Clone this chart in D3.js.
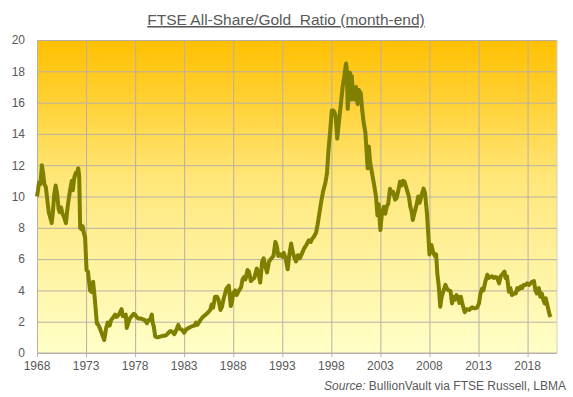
<!DOCTYPE html>
<html>
  <head>
    <meta charset="utf-8">
    <title>FTSE All-Share/Gold Ratio</title>
    <script src="https://d3js.org/d3.v7.min.js"></script>
    <style>
      body { margin: 0; background: #ffffff; }
      text { font-family: "Liberation Sans", Arial, sans-serif; fill: #595959; }
    </style>
  </head>
  <body>
    <svg width="573" height="397" id="mainsvg"></svg>
    <script>
        // month-end ratio (decimal years)
        const dates = [
            1968.00, 1968.10, 1968.20, 1968.35, 1968.50, 1968.60, 1968.75, 1968.90, 1969.05, 1969.20,
            1969.33, 1969.50, 1969.62, 1969.75, 1969.90, 1970.05, 1970.20, 1970.30, 1970.45, 1970.60,
            1970.75, 1970.95, 1971.10, 1971.25, 1971.40, 1971.55, 1971.65, 1971.80, 1971.95, 1972.05,
            1972.20, 1972.30, 1972.40, 1972.55, 1972.65, 1972.80, 1972.90, 1973.05, 1973.20, 1973.40,
            1973.55, 1973.72, 1973.90, 1974.10, 1974.25, 1974.40, 1974.60, 1974.85, 1975.05, 1975.20,
            1975.40, 1975.55, 1975.80, 1975.96, 1976.10, 1976.35, 1976.62, 1976.75, 1976.90, 1977.05,
            1977.15, 1977.30, 1977.45, 1977.65, 1977.85, 1978.00, 1978.15, 1978.35, 1978.60, 1978.80,
            1979.00, 1979.20, 1979.35, 1979.50, 1979.70, 1979.80, 1979.90, 1980.05, 1980.30, 1980.55,
            1980.80, 1981.00, 1981.20, 1981.40, 1981.60, 1981.80, 1982.00, 1982.15, 1982.28, 1982.40,
            1982.55, 1982.75, 1983.00, 1983.20, 1983.45, 1983.75, 1984.05, 1984.20, 1984.35, 1984.65,
            1984.90, 1985.20, 1985.45, 1985.65, 1985.80, 1985.95, 1986.15, 1986.35, 1986.50, 1986.70,
            1986.85, 1987.00, 1987.15, 1987.30, 1987.55, 1987.75, 1987.85, 1988.00, 1988.20, 1988.35,
            1988.60, 1988.80, 1988.95, 1989.10, 1989.25, 1989.45, 1989.60, 1989.80, 1989.95, 1990.15,
            1990.40, 1990.55, 1990.75, 1990.95, 1991.10, 1991.25, 1991.45, 1991.65, 1991.90, 1992.10,
            1992.30, 1992.45, 1992.60, 1992.80, 1993.00, 1993.15, 1993.35, 1993.55, 1993.70, 1993.90,
            1994.05, 1994.20, 1994.40, 1994.60, 1994.80, 1995.00, 1995.20, 1995.45, 1995.70, 1995.90,
            1996.05, 1996.20, 1996.45, 1996.60, 1996.75, 1996.95, 1997.15, 1997.40, 1997.56, 1997.70,
            1997.90, 1998.05, 1998.18, 1998.32, 1998.45, 1998.60, 1998.78, 1998.98, 1999.15, 1999.30,
            1999.50, 1999.58, 1999.67, 1999.78, 1999.90, 2000.00, 2000.08, 2000.20, 2000.35, 2000.52,
            2000.68, 2000.80, 2001.00, 2001.13, 2001.30, 2001.47, 2001.60, 2001.70, 2001.82, 2001.95,
            2002.20, 2002.40, 2002.55, 2002.70, 2002.82, 2003.00, 2003.15, 2003.35, 2003.50, 2003.65,
            2003.80, 2003.98, 2004.15, 2004.30, 2004.50, 2004.65, 2004.80, 2005.00, 2005.15, 2005.30,
            2005.45, 2005.60, 2005.90, 2006.05, 2006.20, 2006.30, 2006.45, 2006.70, 2006.85, 2007.00,
            2007.20, 2007.40, 2007.55, 2007.75, 2007.90, 2008.00, 2008.20, 2008.35, 2008.55, 2008.68,
            2008.80, 2008.95, 2009.10, 2009.25, 2009.40, 2009.63, 2009.80, 2009.95, 2010.15, 2010.30,
            2010.45, 2010.60, 2010.75, 2010.90, 2011.05, 2011.20, 2011.34, 2011.60, 2011.80, 2012.05,
            2012.35, 2012.60, 2012.85, 2013.05, 2013.20, 2013.35, 2013.50, 2013.70, 2013.90, 2014.05,
            2014.20, 2014.40, 2014.55, 2014.75, 2014.90, 2015.10, 2015.25, 2015.45, 2015.65, 2015.75,
            2015.90, 2016.10, 2016.25, 2016.40, 2016.60, 2016.80, 2016.95, 2017.10, 2017.30, 2017.45,
            2017.60, 2017.80, 2017.95, 2018.15, 2018.30, 2018.48, 2018.65, 2018.80, 2018.95, 2019.15,
            2019.30, 2019.45, 2019.60, 2019.75, 2019.85, 2020.00, 2020.25, 2020.35
        ];
        const ratio = [
            10.0, 10.4, 10.9, 10.8, 12.0, 11.6, 10.8, 10.6, 9.8, 9.0,
            8.7, 8.3, 9.0, 10.1, 10.7, 10.2, 9.2, 9.0, 9.3, 8.9,
            8.7, 8.3, 9.2, 9.9, 10.5, 11.0, 10.4, 11.2, 11.5, 11.4,
            11.8, 11.3, 8.0, 7.9, 8.1, 7.6, 7.4, 5.3, 5.2, 4.0,
            3.9, 4.55, 3.4, 1.9, 1.8, 1.6, 1.25, 0.83, 1.6, 1.95,
            1.75, 2.1, 2.3, 2.45, 2.3, 2.45, 2.8, 2.35, 2.4, 2.45,
            1.6, 1.9, 2.2, 2.35, 2.5, 2.45, 2.3, 2.2, 2.2, 2.15,
            2.1, 1.9, 2.1, 2.1, 2.45, 1.9, 1.7, 1.05, 1.0, 1.05,
            1.1, 1.1, 1.15, 1.3, 1.4, 1.35, 1.2, 1.4, 1.6, 1.8,
            1.55, 1.5, 1.3, 1.5, 1.6, 1.7, 1.75, 1.95, 1.8, 2.1,
            2.3, 2.45, 2.6, 2.75, 3.1, 2.9, 3.6, 3.6, 3.4, 2.75,
            2.95, 3.4, 3.75, 4.1, 4.3, 3.0, 3.2, 3.8, 4.0, 3.7,
            4.0, 4.2, 4.7, 4.85, 4.7, 5.3, 5.2, 4.6, 4.7, 4.8,
            5.4, 5.2, 4.5, 5.85, 6.05, 5.6, 5.15, 5.85, 6.05, 6.2,
            7.1, 6.8, 6.2, 6.3, 6.15, 6.4, 6.0, 5.35, 6.2, 7.0,
            6.5, 6.15, 5.85, 6.25, 6.05, 6.35, 6.65, 6.9, 7.2, 7.1,
            7.3, 7.4, 7.7, 8.2, 8.8, 9.6, 10.3, 10.9, 11.5, 12.9,
            14.3, 15.5, 15.5, 15.4, 15.1, 13.7, 14.8, 15.95, 17.0, 17.6,
            18.5, 18.1, 15.6, 17.0, 17.9, 16.2, 17.7, 16.6, 16.2, 17.0,
            15.9, 16.8, 16.6, 15.6, 14.7, 14.1, 12.8, 11.8, 13.2, 12.2,
            11.3, 10.6, 10.0, 8.8, 9.5, 7.86, 8.9, 9.35, 8.9, 9.35,
            9.55, 10.5, 10.2, 10.3, 9.8, 9.9, 10.3, 10.95, 10.7, 11.0,
            10.95, 10.65, 10.0, 9.35, 9.0, 8.5, 8.9, 9.5, 10.0, 9.6,
            10.1, 10.5, 10.2, 8.9, 7.4, 6.3, 6.9, 6.5, 6.2, 6.3,
            5.1, 4.25, 2.96, 3.6, 3.9, 4.35, 4.1, 4.0, 3.95, 3.17,
            3.6, 3.4, 3.7, 3.6, 3.2, 3.6, 3.17, 2.6, 2.8, 2.75,
            2.92, 2.85, 2.9, 3.17, 3.8, 4.1, 4.0, 4.56, 5.0, 4.8,
            4.85, 4.9, 4.8, 4.85, 4.8, 4.45, 4.9, 5.05, 5.2, 4.8,
            4.9, 3.92, 4.15, 3.7, 3.8, 3.8, 4.15, 4.05, 4.25, 4.15,
            4.35, 4.35, 4.45, 4.35, 4.45, 4.56, 4.6, 4.0, 3.8, 4.15,
            3.6, 3.8, 3.4, 3.17, 3.5, 3.1, 2.43, 2.3
        ];
        const xTicks = [1968, 1973, 1978, 1983, 1988, 1993, 1998, 2003, 2008, 2013, 2018];
        const yTicks = [0, 2, 4, 6, 8, 10, 12, 14, 16, 18, 20];

        const svg = d3.select('#mainsvg');
        const margin = {top: 40, right: 16, bottom: 44, left: 37};
        const innerWidth = 573 - margin.left - margin.right;
        const innerHeight = 397 - margin.top - margin.bottom;

        const xScale = d3.scaleLinear().domain([1968, 2021]).range([0, innerWidth]);
        const yScale = d3.scaleLinear().domain([0, 20]).range([innerHeight, 0]);

        // background gradient: orange at top fading to pale yellow
        const grad = svg.append('defs').append('linearGradient')
            .attr('id', 'bg').attr('x1', 0).attr('y1', 0).attr('x2', 0).attr('y2', 1);
        grad.append('stop').attr('offset', '0%').attr('stop-color', '#ffc000');
        grad.append('stop').attr('offset', '45%').attr('stop-color', '#ffe77a');
        grad.append('stop').attr('offset', '100%').attr('stop-color', '#ffffc8');

        const g = svg.append('g')
            .attr('transform', `translate(${margin.left}, ${margin.top})`);

        g.append('rect')
            .attr('width', innerWidth).attr('height', innerHeight)
            .attr('fill', 'url(#bg)');

        // grid lines
        const yAxis = d3.axisLeft(yScale).tickValues(yTicks)
            .tickSize(-innerWidth).tickFormat('');
        const yAxisGroup = g.append('g').call(yAxis);
        yAxisGroup.selectAll('.domain').remove();
        yAxisGroup.selectAll('line').attr('stroke', '#b8b0a8');

        const xAxis = d3.axisBottom(xScale).tickValues(xTicks)
            .tickSize(-innerHeight).tickFormat('');
        const xAxisGroup = g.append('g').call(xAxis)
            .attr('transform', `translate(0, ${innerHeight})`);
        xAxisGroup.selectAll('.domain').remove();
        xAxisGroup.selectAll('line').attr('stroke', '#b8b0a8');
        // small outer ticks below the axis
        xAxisGroup.selectAll('.tick').append('line')
            .attr('y2', 4).attr('stroke', '#b8b0a8');

        // tick labels as plain text
        g.selectAll('.ylab').data(yTicks).join('text')
            .attr('class', 'ylab')
            .attr('x', -12).attr('y', d => yScale(d)).attr('dy', '0.36em')
            .attr('text-anchor', 'end').attr('font-size', '12px')
            .text(d => d);
        g.selectAll('.xlab').data(xTicks).join('text')
            .attr('class', 'xlab')
            .attr('x', d => xScale(d)).attr('y', innerHeight + 17)
            .attr('text-anchor', 'middle').attr('font-size', '12px')
            .text(d => d);

        // right edge and x axis line
        g.append('line').attr('x1', innerWidth).attr('x2', innerWidth)
            .attr('y1', 0).attr('y2', innerHeight).attr('stroke', '#d8cfc0');
        g.append('line').attr('x1', 0).attr('x2', innerWidth)
            .attr('y1', innerHeight).attr('y2', innerHeight).attr('stroke', '#b8b0a8');

        const line = d3.line()
            .x((d, i) => xScale(dates[i]))
            .y(d => yScale(d));

        g.append('path')
            .datum(ratio)
            .attr('d', line)
            .attr('fill', 'none')
            .attr('stroke', '#7f7f00')
            .attr('stroke-width', 4)
            .attr('stroke-linejoin', 'round');

        // title
        svg.append('text')
            .attr('x', 286).attr('y', 25)
            .attr('text-anchor', 'middle')
            .attr('font-size', '15.5px')
            .attr('text-decoration', 'underline')
            .style('white-space', 'pre')
            .text('FTSE All-Share/Gold  Ratio (month-end)');

        // source note
        const src = svg.append('text')
            .attr('x', 566).attr('y', 390)
            .attr('text-anchor', 'end')
            .attr('font-size', '12px');
        src.append('tspan').attr('font-style', 'italic').text('Source:');
        src.append('tspan').text(' BullionVault via FTSE Russell, LBMA');
    </script>
  </body>
</html>
